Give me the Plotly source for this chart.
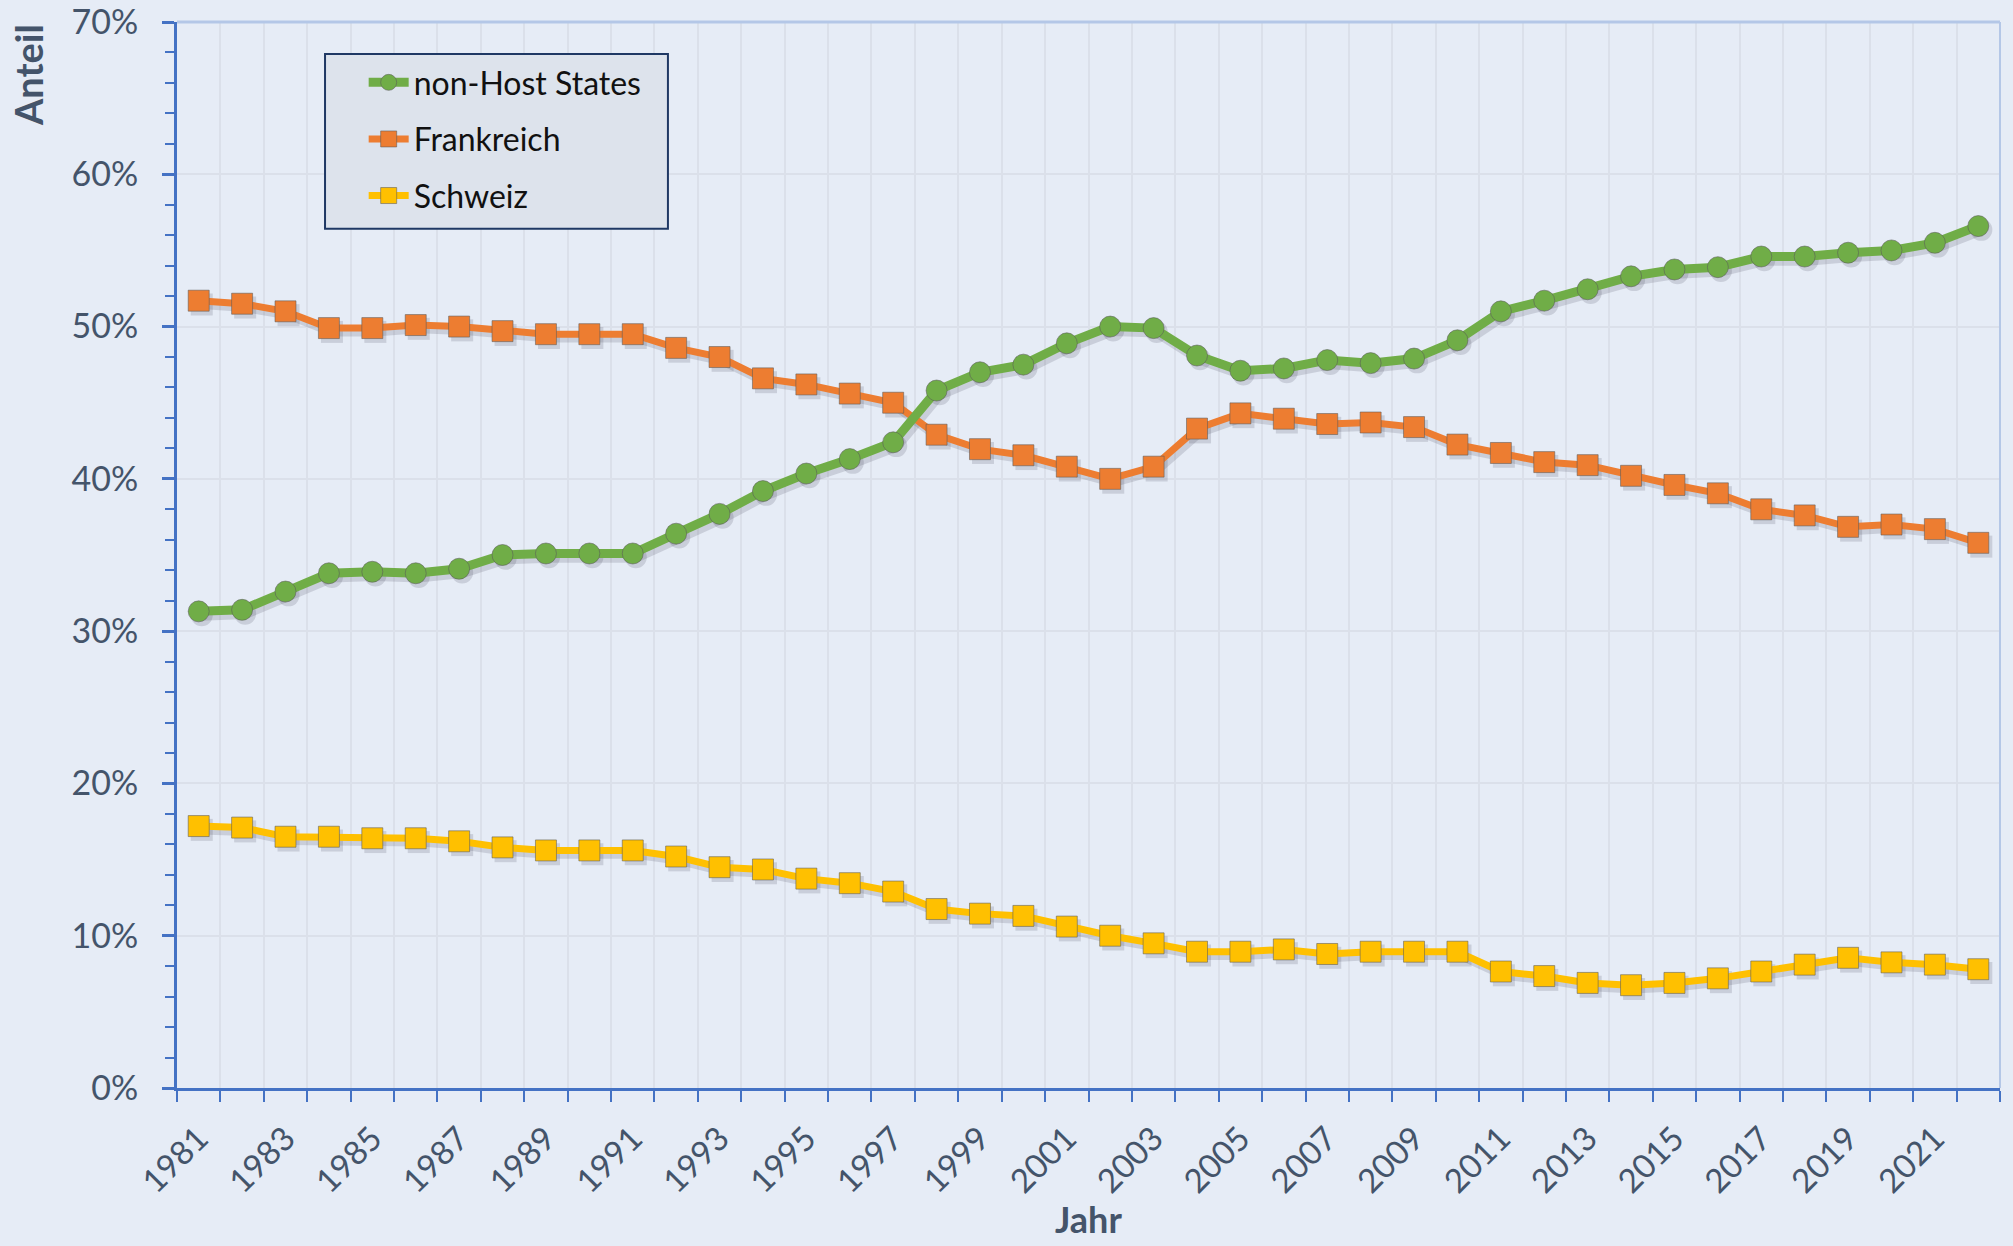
import plotly.graph_objects as go

# ---- data (shares in %) ----
years = list(range(1981, 2023))
label_years = [1981, 1983, 1985, 1987, 1989, 1991, 1993, 1995, 1997, 1999, 2001,
               2003, 2005, 2007, 2009, 2011, 2013, 2015, 2017, 2019, 2021]

non_host = [31.3, 31.4, 32.6, 33.8, 33.9, 33.8, 34.1, 35.0, 35.1, 35.1,
            35.1, 36.4, 37.7, 39.2, 40.35, 41.3, 42.4, 45.8, 47.0, 47.5,
            48.9, 50.0, 49.9, 48.1, 47.1, 47.25, 47.8, 47.6, 47.9, 49.1,
            51.0, 51.7, 52.45, 53.3, 53.75, 53.9, 54.6, 54.6, 54.85, 55.0,
            55.5, 56.6]
frankreich = [51.7, 51.5, 51.0, 49.9, 49.9, 50.1, 50.0, 49.7, 49.5, 49.5,
              49.5, 48.6, 48.0, 46.6, 46.2, 45.6, 45.0, 42.9, 41.95, 41.55,
              40.8, 40.0, 40.8, 43.3, 44.3, 43.95, 43.6, 43.7, 43.4, 42.25,
              41.7, 41.1, 40.9, 40.2, 39.6, 39.05, 38.0, 37.6, 36.85, 37.0,
              36.7, 35.8]
schweiz = [17.2, 17.1, 16.5, 16.5, 16.4, 16.4, 16.2, 15.8, 15.6, 15.6,
           15.6, 15.2, 14.5, 14.35, 13.75, 13.45, 12.9, 11.75, 11.45, 11.3,
           10.6, 10.0, 9.5, 8.95, 8.95, 9.1, 8.8, 8.95, 8.95, 8.95,
           7.65, 7.35, 6.9, 6.75, 6.9, 7.2, 7.65, 8.1, 8.55, 8.25,
           8.1, 7.8]

series_names = ["non-Host States", "Frankreich", "Schweiz"]
series_values = [non_host, frankreich, schweiz]
series_colors = ["#70AD47", "#ED7D31", "#FFC000"]
series_symbols = ["circle", "square", "square"]
series_widths = [9, 7, 7]

FONT = "Lato"
AXIS_TXT = "#44546A"
AXIS_LINE = "#4472C4"
BG = "#E6ECF6"
GRID = "#DBE0EA"

X_RANGE = [1980.5, 2022.5]
Y_RANGE = [0, 70]
# soft drop shadow: same data drawn on hidden base axes whose range is nudged a few px
SHADOW_DX = 0.07   # in years  (~3 px to the right)
SHADOW_DY = 0.25   # in %      (~4 px down)

fig = go.Figure()

# shadows on hidden base axes (x/y)
for idx in [2, 1, 0]:
    fig.add_trace(go.Scatter(
        x=years, y=series_values[idx], xaxis="x", yaxis="y",
        mode="lines+markers", showlegend=False, hoverinfo="skip",
        line=dict(color="rgba(40,40,60,0.15)", width=series_widths[idx] + 2),
        marker=dict(symbol=series_symbols[idx], size=22, color="rgba(40,40,60,0.15)"),
    ))

# main series on visible overlay axes (x2/y2), non-Host on top
for idx in [2, 1, 0]:
    fig.add_trace(go.Scatter(
        x=years, y=series_values[idx], name=series_names[idx],
        xaxis="x2", yaxis="y2",
        mode="lines+markers",
        line=dict(color=series_colors[idx], width=series_widths[idx]),
        marker=dict(symbol=series_symbols[idx], size=21, color=series_colors[idx],
                    line=dict(color="rgba(90,90,90,0.55)", width=1)),
        legendrank=idx + 1, legendgroup=series_names[idx],
    ))

fig.update_layout(
    width=2013, height=1246,
    margin=dict(l=177, r=13, t=22, b=158),
    paper_bgcolor=BG, plot_bgcolor=BG,
    font=dict(family=FONT, color=AXIS_TXT, size=30),
    showlegend=True,
    legend=dict(x=0.1024, y=0.969, xanchor="left", yanchor="top",
                bgcolor="rgba(0,0,0,0)", borderwidth=0,
                font=dict(family=FONT, size=32, color="#111111"),
                tracegroupgap=12, itemwidth=40),
    shapes=[
        dict(type="rect", xref="paper", yref="paper",
             x0=0.0812, x1=0.2693, y0=0.806, y1=0.970,
             fillcolor="#DDE3EC", line=dict(color="#1F3864", width=2), layer="above",
             opacity=1),
        dict(type="line", xref="paper", yref="paper", x0=0, x1=1, y0=1, y1=1,
             line=dict(color="#B4C7E7", width=3), layer="above"),
        dict(type="line", xref="paper", yref="paper", x0=1, x1=1, y0=0, y1=1,
             line=dict(color="#B4C7E7", width=2), layer="above"),
    ],
    annotations=[
        dict(text="<b>Jahr</b>", xref="paper", yref="paper", x=0.5, y=-0.1225,
             xanchor="center", yanchor="middle", showarrow=False,
             font=dict(family=FONT, size=36, color=AXIS_TXT)),
        dict(text="<b>Anteil</b>", xref="paper", yref="paper", x=-0.0817, y=1.0,
             xanchor="center", yanchor="top", textangle=-90, showarrow=False,
             font=dict(family=FONT, size=38, color=AXIS_TXT)),
    ],
    xaxis=dict(range=[X_RANGE[0] - SHADOW_DX, X_RANGE[1] - SHADOW_DX],
               visible=False, showgrid=False, zeroline=False, automargin=False),
    yaxis=dict(range=[Y_RANGE[0] + SHADOW_DY, Y_RANGE[1] + SHADOW_DY],
               visible=False, showgrid=False, zeroline=False, automargin=False),
)

fig.update_layout(xaxis2=dict(
    overlaying="x", side="bottom",
    range=X_RANGE, automargin=False,
    tickmode="array", tickvals=label_years, ticktext=[str(y) for y in label_years],
    tickangle=-45, ticks="", showgrid=False, zeroline=False,
    showline=True, linecolor=AXIS_LINE, linewidth=3,
    tickfont=dict(family=FONT, size=33, color=AXIS_TXT),
    ticklabelstandoff=15, ticklabeloverflow="allow",
    minor=dict(tick0=1980.5, dtick=1, ticks="outside", ticklen=11, tickwidth=2,
               tickcolor=AXIS_LINE, showgrid=True, gridcolor=GRID, gridwidth=2),
))

fig.update_layout(yaxis2=dict(
    overlaying="y", side="left",
    range=Y_RANGE, dtick=10, ticksuffix="%", automargin=False,
    ticks="outside", ticklen=12, tickwidth=3, tickcolor=AXIS_LINE,
    showline=True, linecolor=AXIS_LINE, linewidth=3,
    showgrid=True, gridcolor=GRID, gridwidth=2, zeroline=False,
    tickfont=dict(family=FONT, size=34, color=AXIS_TXT),
    ticklabelstandoff=17, ticklabeloverflow="allow",
    minor=dict(dtick=2, ticks="outside", ticklen=9, tickwidth=2,
               tickcolor=AXIS_LINE, showgrid=False),
))

fig.write_html("out.html", config={"displayModeBar": False},
               post_script="document.body.style.margin='0';")
